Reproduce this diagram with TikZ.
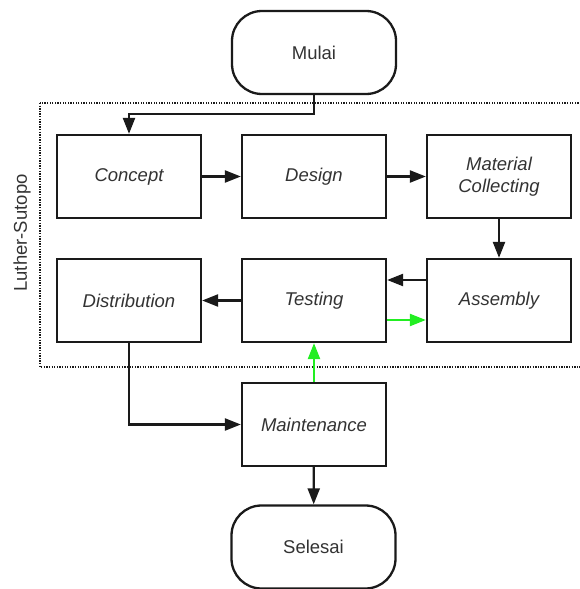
\documentclass[tikz,border=0pt]{standalone}
\usepackage{fontspec}
\setmainfont{Liberation Sans}
\usetikzlibrary{arrows.meta}
\definecolor{lineclr}{HTML}{1A1A1A}
\definecolor{txtclr}{HTML}{333333}
\definecolor{lime}{HTML}{22EE22}
\tikzset{
  proc/.style={draw=lineclr, line width=2.3pt, minimum width=144pt, minimum height=83pt,
    inner sep=0pt, align=center, text=txtclr, font=\fontsize{18.5}{22}\selectfont\itshape},
  term/.style={draw=lineclr, line width=2.3pt, rounded corners=30pt, minimum width=164pt,
    minimum height=83pt, inner sep=0pt, text=txtclr, font=\fontsize{18.5}{22}\selectfont},
  conn/.style={draw=lineclr, line width=2.2pt, -{Triangle[length=16pt,width=12pt]}},
  gconn/.style={draw=lime, line width=2.2pt, -{Triangle[length=16pt,width=12pt]}},
}
\begin{document}
\begin{tikzpicture}[x=1pt,y=-1pt]
\useasboundingbox (0,0) rectangle (579,589);
\draw[lineclr, line width=1.4pt, dash pattern=on 1.3pt off 1.3pt] (40,103) rectangle (590,367);
\node[rotate=90, text=txtclr, font=\fontsize{18.5}{22}\selectfont] (lbl) at (22,233) {Luther-Sutopo};
\node[term] (mulai) at (314,52.5) {Mulai};
\node[proc] (concept) at (129,176.5) {Concept};
\node[proc] (design) at (314,176.5) {Design};
\node[proc] (material) at (499,176.5) {Material\\Collecting};
\node[proc] (distribution) at (129,300.5) {Distribution};
\node[proc] (testing) at (314,300.5) {Testing};
\node[proc] (assembly) at (499,300.5) {Assembly};
\node[proc] (maint) at (314,424.5) {Maintenance};
\node[term] (selesai) at (313.5,547) {Selesai};
\coordinate (c1) at (314,114);
\coordinate (c2) at (129,114);
\draw[conn] (mulai.south) -- (c1) -- (c2) -- (concept.north);
\draw[conn] (concept) -- (design);
\draw[conn] (design) -- (material);
\draw[conn] (material) -- (assembly);
\draw[conn] ([yshift=20.5pt]assembly.west) -- ([yshift=20.5pt]testing.east);
\draw[gconn] ([yshift=-19.5pt]testing.east) -- ([yshift=-19.5pt]assembly.west);
\draw[conn] (testing) -- (distribution);
\draw[conn] (distribution.south) |- (maint.west);
\draw[gconn] (maint) -- (testing);
\draw[conn] (maint) -- (selesai);
\end{tikzpicture}
\end{document}
